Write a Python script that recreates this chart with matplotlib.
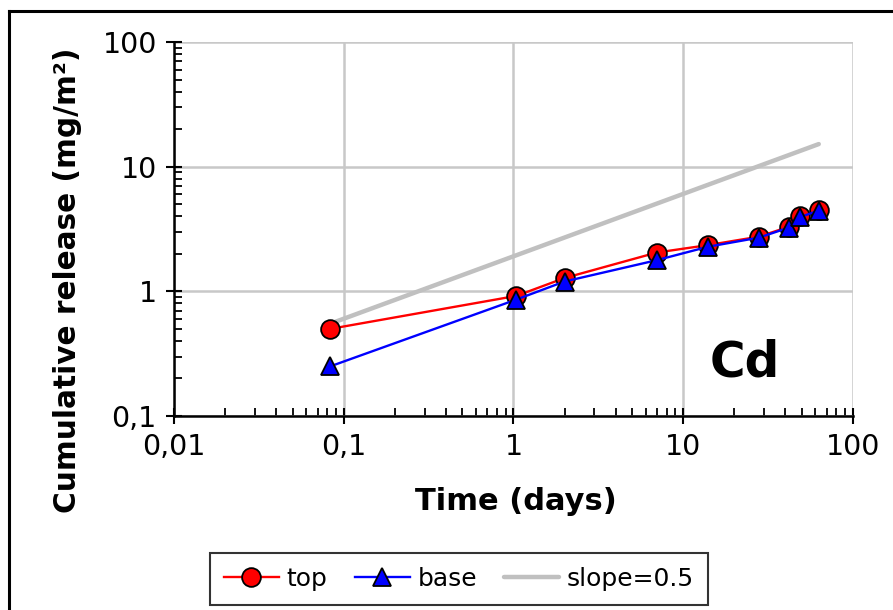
import matplotlib
matplotlib.use('Agg')
import matplotlib.pyplot as plt
import matplotlib.ticker as mticker
from matplotlib.lines import Line2D
import numpy as np

# leaching data (days, mg/m2)
t_top = [0.083, 1.04, 2.0, 7.0, 14.0, 28.0, 42.0, 49.0, 63.0]
c_top = [0.50, 0.92, 1.28, 2.05, 2.35, 2.75, 3.3, 4.0, 4.5]
t_base = [0.083, 1.04, 2.0, 7.0, 14.0, 28.0, 42.0, 49.0, 63.0]
c_base = [0.25, 0.86, 1.2, 1.78, 2.28, 2.7, 3.25, 3.95, 4.45]
t_slope = [0.083, 63.0]
c_slope = [0.55, 15.2]

xticks = [0.01, 0.1, 1, 10, 100]
xlabels = ['0,01', '0,1', '1', '10', '100']
yticks = [0.1, 1, 10, 100]
ylabels = ['0,1', '1', '10', '100']

plt.rcParams['font.family'] = 'DejaVu Sans'
fig = plt.figure(figsize=(8.93, 6.10), dpi=100)
ax = fig.add_axes([0.195, 0.318, 0.760, 0.613])

ax.plot(t_top, c_top, '-o', color='red', lw=1.7, ms=13.5, mfc='red', mec='black', mew=1.3, label='top', zorder=3)
ax.plot(t_base, c_base, '-^', color='blue', lw=1.7, ms=13.5, mfc='blue', mec='black', mew=1.3, label='base', zorder=4)
ax.plot(t_slope, c_slope, '-', color='#c0c0c0', lw=3.2, solid_capstyle='round', label='slope=0.5', zorder=2)

ax.set_xscale('log')
ax.set_yscale('log')
ax.set_xlim(0.01, 100)
ax.set_ylim(0.1, 100)
ax.set_xticks(xticks)
ax.set_xticklabels(xlabels)
ax.set_yticks(yticks)
ax.set_yticklabels(ylabels)
ax.xaxis.set_minor_locator(mticker.LogLocator(base=10, subs=np.arange(2, 10)))
ax.yaxis.set_minor_locator(mticker.LogLocator(base=10, subs=np.arange(2, 10)))
ax.xaxis.set_minor_formatter(mticker.NullFormatter())
ax.yaxis.set_minor_formatter(mticker.NullFormatter())
ax.tick_params(which='major', direction='inout', length=11, width=1.5, labelsize=20.5, pad=7)
ax.tick_params(which='minor', direction='in', length=6, width=1.3)

ax.grid(True, which='major', color='#c8c8c8', lw=1.8)
ax.set_axisbelow(True)
for s in ['top', 'right']:
    ax.spines[s].set_visible(False)
for s in ['left', 'bottom']:
    ax.spines[s].set_linewidth(1.8)
    ax.spines[s].set_zorder(5)

ax.set_xlabel('Time (days)', fontsize=22, fontweight='bold')
ax.set_ylabel('Cumulative release (mg/m²)', fontsize=21.3, fontweight='bold')
ax.xaxis.set_label_coords(0.504, -0.19)
ax.yaxis.set_label_coords(-0.136, 0.364)

ax.text(0.841, 0.144, 'Cd', transform=ax.transAxes, fontsize=35, fontweight='bold', ha='center', va='center')

leg = fig.legend(loc='center', bbox_to_anchor=(0.514, 0.051), ncol=3, fontsize=18, frameon=True, fancybox=False,
                 edgecolor='black', handlelength=2.2, columnspacing=1.1, handletextpad=0.3, borderpad=0.55)
leg.get_frame().set_linewidth(1.5)

# outer chart border (top and left visible)
fig.add_artist(Line2D([0.010, 1.0], [1 - 11 / 610, 1 - 11 / 610], color='black', lw=2.2, transform=fig.transFigure))
fig.add_artist(Line2D([0.010, 0.010], [0.0, 1 - 11 / 610], color='black', lw=2.2, transform=fig.transFigure))

plt.savefig('out.png', dpi=100)
